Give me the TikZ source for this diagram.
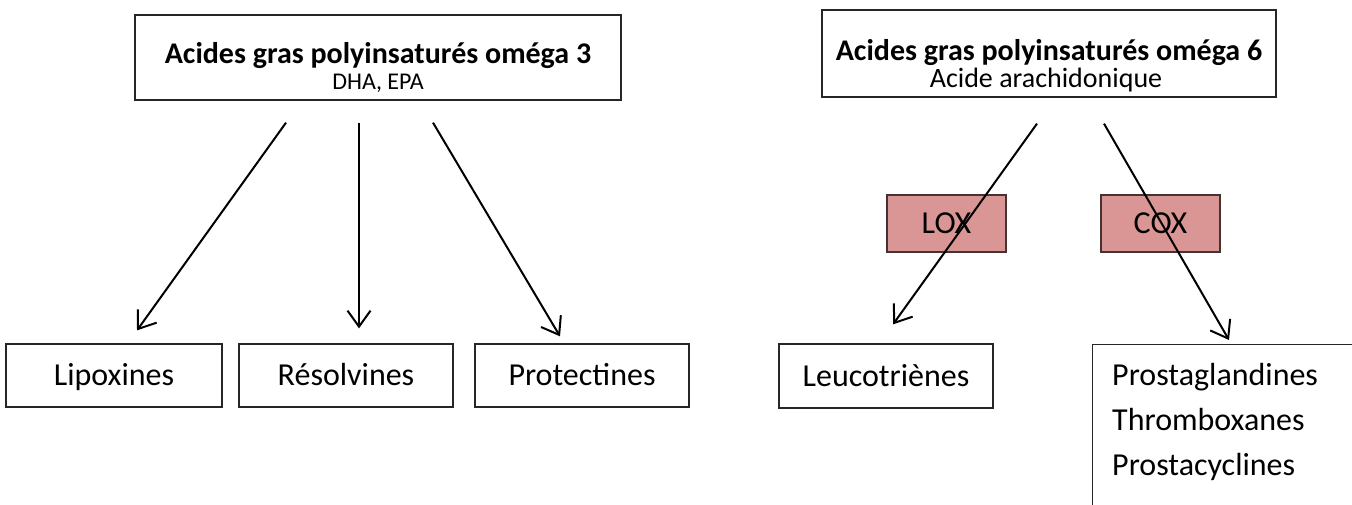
\documentclass[tikz,border=0pt]{standalone}
\usepackage{fontspec}
\setmainfont{Carlito}
\usetikzlibrary{arrows.meta,calc}
\definecolor{enzrose}{RGB}{217,150,148}
\definecolor{enzbord}{RGB}{70,50,50}
\tikzset{
  boite/.style={draw=black!85, line width=1.3pt, inner sep=0pt},
  enzyme/.style={draw=enzbord, line width=1.3pt, fill=enzrose, inner sep=0pt},
  lbl/.style={font=\fontsize{32}{38}\selectfont, text height=20pt, text depth=0pt},
  titre/.style={anchor=base, font=\fontsize{30}{36}\selectfont\bfseries},
  fleche/.style={line width=2pt, -{Straight Barb[length=16pt,width=23pt,line width=2pt]}}
}
\begin{document}
\begin{tikzpicture}[x=1pt,y=-1pt]
\useasboundingbox (0,0) rectangle (1352,504);
\fill[white] (0,0) rectangle (1352,504);
\clip (0,0) rectangle (1352,504);
% sources
\node[boite, minimum width=486pt, minimum height=85pt] (omegatrois) at (378,57.5) {};
\node[titre] (titretrois) at (378,63) {Acides gras polyinsaturés oméga 3};
\node[anchor=base, font=\fontsize{24}{29}\selectfont] (soustrois) at (378,89) {DHA, EPA};
\node[boite, minimum width=454pt, minimum height=87pt] (omegasix) at (1049,53.5) {};
\node[titre] (titresix) at (1049,60) {Acides gras polyinsaturés oméga 6};
\node[anchor=base, font=\fontsize{28}{34}\selectfont] (soussix) at (1046,87) {Acide arachidonique};
% enzymes
\node[enzyme, lbl, minimum width=119pt, minimum height=57pt] (lox) at (946.5,223.5) {LOX};
\node[enzyme, lbl, minimum width=119pt, minimum height=57pt] (cox) at (1160.5,223.5) {COX};
% produits
\node[boite, lbl, minimum width=216pt, minimum height=63pt] (lipox) at (114,375.5) {Lipoxines};
\node[boite, lbl, minimum width=214pt, minimum height=63pt] (resol) at (346,375.5) {Résolvines};
\node[boite, lbl, minimum width=214pt, minimum height=63pt] (protec) at (582,375.5) {Protectines};
\node[boite, lbl, minimum width=214pt, minimum height=64pt] (leuco) at (886,376) {Leucotriènes};
\node[boite, anchor=north west, minimum width=300pt, minimum height=200pt] (prosta) at (1092,344) {};
\foreach \nom [count=\i] in {Prostaglandines,Thromboxanes,Prostacyclines}
  \node[anchor=base west, inner sep=0pt, font=\fontsize{32}{38}\selectfont] (prosta\i) at (1112,340+45*\i) {\nom};
% fleches
\draw[fleche] ($(omegatrois.south)+(-92,22)$) -- ($(lipox.north)+(23,-13)$);
\draw[fleche] ($(omegatrois.south)+(-19,22)$) -- ($(resol.north)+(13,-15)$);
\draw[fleche] ($(omegatrois.south)+(55,22)$) -- ($(protec.north)+(-22,-7)$);
\draw[fleche] ($(omegasix.south)+(-12,26)$) -- ($(leuco.north)+(7,-19)$);
\draw[fleche] ($(omegasix.south)+(55,26)$) -- ($(prosta.north west)+(137,-4)$);
\end{tikzpicture}
\end{document}
